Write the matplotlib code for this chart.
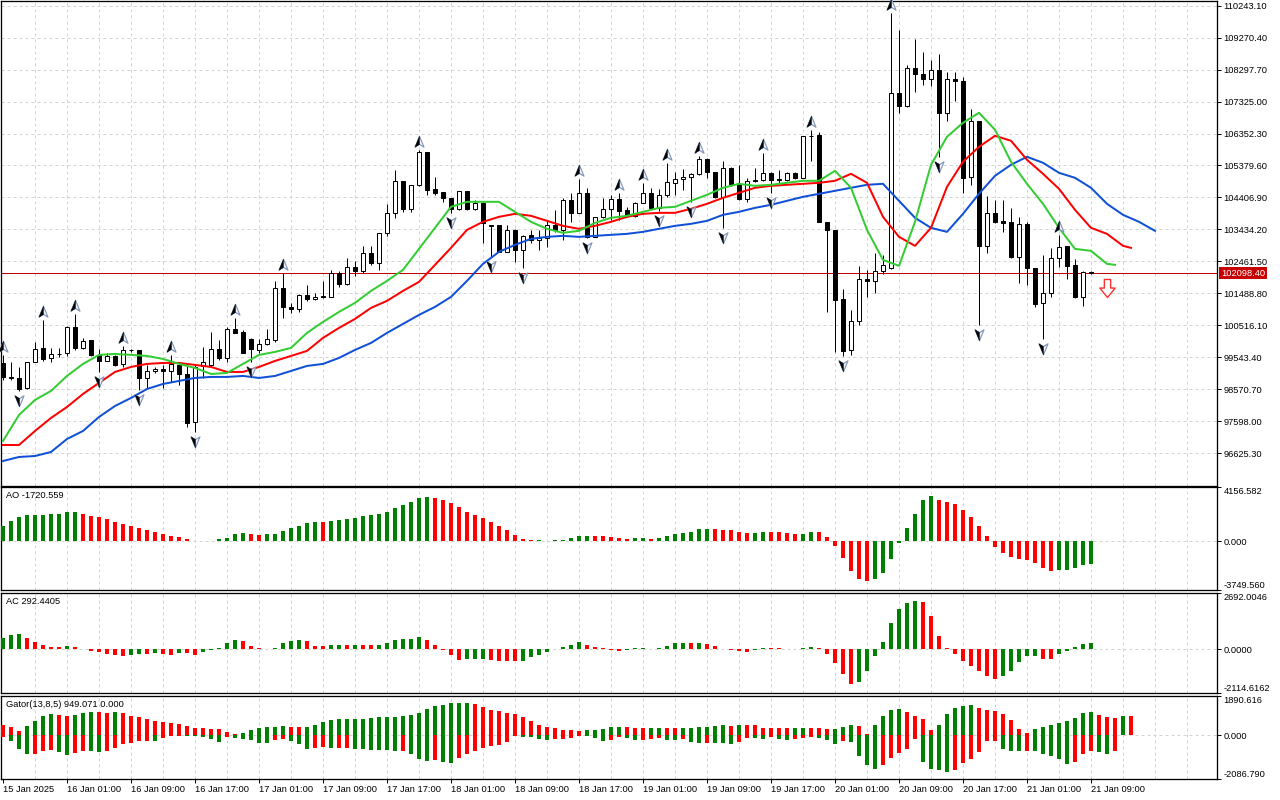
import numpy as np
import matplotlib
matplotlib.use("Agg")
import matplotlib.pyplot as plt
from matplotlib.path import Path
from matplotlib.transforms import offset_copy, blended_transform_factory

plt.rcParams['font.family'] = ['Liberation Sans', 'DejaVu Sans']
FS = 6.7

# ---------------- data ----------------
time_labels = ["15 Jan 2025", "16 Jan 01:00", "16 Jan 09:00", "16 Jan 17:00", "17 Jan 01:00",
               "17 Jan 09:00", "17 Jan 17:00", "18 Jan 01:00", "18 Jan 09:00", "18 Jan 17:00",
               "19 Jan 01:00", "19 Jan 09:00", "19 Jan 17:00", "20 Jan 01:00", "20 Jan 09:00",
               "20 Jan 17:00", "21 Jan 01:00", "21 Jan 09:00"]

open_ = [99378, 98933, 98920, 98598, 99390, 99826, 99512, 99634, 99665, 100456,
         99817, 100070, 99613, 99439, 99582, 99329, 99765, 99750, 98903, 99126,
         99186, 99126, 99308, 99034, 97581, 99277, 99308, 99786, 99512, 100405,
         100322, 100091, 99765, 99948, 100070, 101644, 101084, 101005, 101440, 101309,
         101410, 101389, 102101, 101775, 102284, 102181, 102711, 102424, 103320, 103947,
         104922, 104051, 104791, 105775, 104660, 104587, 104386, 104051, 104617, 104060,
         104252, 103551, 103572, 102759, 103420, 102811, 103268, 103116, 103167, 103572,
         103420, 104334, 103947, 104538, 103216, 103807, 104060, 104355, 104029, 103847,
         104252, 104538, 104081, 104486, 104861, 104965, 105025, 105117, 105583, 105166,
         104416, 105300, 104821, 104355, 104922, 104943, 105147, 104943, 104935, 105147,
         105013, 106283, 106313, 103673, 103420, 101309, 99765, 100657, 101918, 101876,
         102181, 102253, 107584, 107176, 108346, 108172, 108011, 108294, 106975, 108011,
         107937, 105025, 106719, 102933, 103929, 103703, 103673, 102589, 103603, 102253,
         101206, 101492, 102558, 102933, 102354, 101370, 102150]
high_ = [99613, 99409, 99256, 99400, 100018, 100679, 99817, 99817, 100496, 100852,
         100121, 100070, 99796, 99665, 99613, 99887, 99796, 99765, 99308, 99256,
         99308, 99613, 99360, 99308, 99308, 99856, 100322, 100070, 100475, 100730,
         100374, 100121, 100091, 100396, 101867, 102120, 101206, 101471, 101745, 101492,
         101867, 102202, 102181, 102576, 102485, 102933, 102933, 103320, 104212, 105227,
         104922, 104791, 105840, 105775, 105025, 104587, 104386, 104617, 104617, 104334,
         104252, 103572, 103572, 103572, 103441, 103268, 103420, 103420, 103725, 104029,
         104386, 104538, 104974, 104690, 103825, 104386, 104486, 104538, 104130, 104282,
         104861, 104690, 104660, 105470, 105196, 105269, 105147, 105653, 105604, 105196,
         105501, 105330, 105400, 104995, 105300, 105750, 105196, 105227, 105196, 105196,
         106283, 106466, 106384, 103673, 103420, 101614, 100983, 102324, 102202, 102711,
         102659, 110021, 109512, 108446, 109229, 108821, 108577, 108781, 108212, 108212,
         108072, 107097, 106719, 104456, 104334, 104334, 104081, 103807, 103673, 102253,
         102659, 102863, 103268, 102933, 102528, 102181, 102181]
low_ = [98851, 98851, 98525, 98577, 99390, 99439, 99409, 99543, 99582, 99765,
        99786, 99582, 99104, 99439, 99287, 99256, 99713, 98547, 98598, 99055,
        98620, 98799, 98699, 97429, 97276, 98912, 99256, 99460, 99409, 100274,
        99665, 99399, 99683, 99917, 100018, 100731, 100883, 100932, 101267, 101288,
        101350, 101389, 101675, 101745, 102019, 102120, 102354, 102202, 103237, 103776,
        103978, 103978, 104760, 104486, 104486, 104282, 103929, 104029, 104029, 104029,
        103015, 102607, 102759, 102741, 102445, 102253, 103015, 102811, 102911, 103368,
        103116, 103673, 103929, 103167, 103200, 103776, 103725, 103725, 103825, 103825,
        104233, 104060, 104000, 104434, 104486, 104639, 104273, 105095, 104995, 104386,
        103472, 104760, 104334, 104282, 104891, 104922, 104547, 104843, 104922, 104974,
        104995, 105501, 103673, 100932, 99704, 99582, 99613, 100527, 101389, 101510,
        102080, 102223, 106975, 107158, 107602, 107837, 107806, 105644, 106719, 107328,
        104538, 104791, 100527, 102711, 103643, 103368, 102558, 101815, 101745, 101066,
        100091, 101389, 102302, 101918, 101340, 101105, 102080]
close_ = [98933, 98920, 98577, 99390, 99805, 99491, 99634, 99650, 100456, 99817,
          100049, 99613, 99439, 99582, 99308, 99765, 99750, 98903, 99126, 99186,
          99126, 99339, 99034, 97551, 99256, 99400, 99786, 99512, 100405, 100292,
          99683, 99786, 99948, 100091, 101644, 101066, 101005, 101440, 101309, 101370,
          101370, 102101, 101775, 102284, 102181, 102711, 102424, 103320, 103947, 104922,
          104051, 104791, 105775, 104639, 104556, 104386, 104051, 104617, 104051, 104243,
          103624, 103560, 102759, 103420, 102811, 103237, 103116, 103167, 103572, 103420,
          104334, 103947, 104538, 103216, 103807, 104060, 104355, 104008, 103847, 104252,
          104538, 104081, 104486, 104891, 104965, 105025, 105117, 105583, 105166, 104416,
          105300, 104821, 104355, 104922, 104943, 105147, 104943, 104935, 105147, 104995,
          106262, 106270, 103673, 103420, 101288, 99744, 100657, 101918, 101876, 102181,
          102354, 107584, 107176, 108346, 108172, 108011, 108272, 106975, 108011, 107937,
          104995, 106719, 102933, 103929, 103673, 103643, 102589, 103603, 102253, 101166,
          101492, 102558, 102911, 102324, 101370, 102150, 102098.4]
current_price = 102098.40

fractal_up_bars = [0, 5, 9, 15, 21, 29, 35, 52, 72, 77, 80, 83, 87, 95, 101, 111, 132]
fractal_down_bars = [2, 12, 17, 24, 31, 56, 61, 65, 73, 82, 86, 90, 96, 105, 117, 122, 130]
signal_bars = [138]
signal_prices = [101650]

# Alligator lines (sampled every 2 bars, shifted forward as displayed)
lips_bars = list(range(0, 139, 2)) + [139]
lips_vals = [96993, 97785, 98242, 98516, 98973, 99339, 99613, 99643, 99613, 99582,
             99491, 99339, 99217, 99034, 99064, 99339, 99613, 99704, 99826, 100283,
             100618, 100922, 101197, 101562, 101867, 102202, 102841, 103481, 104121, 104273,
             104273, 104273, 103968, 103664, 103451, 103329, 103390, 103633, 103786, 103847,
             103968, 104090, 104121, 104304, 104486, 104700, 104821, 104760, 104791, 104852,
             104913, 104913, 105217, 104700, 103420, 102506, 102324, 103664, 105400, 106253,
             106679, 106984, 106466, 105491, 104821, 104212, 103481, 102841, 102781, 102385,
             102354]
teeth_bars = list(range(0, 141, 2)) + [141]
teeth_vals = [96871, 96871, 97298, 97694, 98029, 98425, 98760, 99095, 99247, 99339,
              99369, 99369, 99308, 99247, 99095, 99095, 99247, 99430, 99582, 99735,
              100131, 100435, 100709, 101044, 101258, 101562, 101836, 102354, 102872, 103420,
              103664, 103816, 103908, 103847, 103694, 103542, 103451, 103542, 103664, 103816,
              103908, 103938, 103938, 104060, 104212, 104395, 104547, 104700, 104760, 104791,
              104821, 104852, 104913, 105126, 104852, 103816, 103207, 102933, 103481, 104730,
              105491, 105948, 106283, 106131, 105552, 105126, 104669, 104029, 103481, 103298,
              102933, 102872]
jaw_bars = list(range(0, 145, 2))
jaw_vals = [96384, 96506, 96536, 96658, 97054, 97298, 97724, 98059, 98303, 98577,
            98729, 98821, 98912, 98943, 98943, 98973, 98912, 98973, 99125, 99278,
            99339, 99521, 99765, 99978, 100283, 100557, 100831, 101075, 101379, 101867,
            102385, 102750, 102963, 103146, 103207, 103237, 103207, 103237, 103268, 103298,
            103359, 103451, 103542, 103603, 103694, 103877, 103968, 104090, 104182, 104304,
            104425, 104517, 104608, 104700, 104791, 104821, 104304, 103786, 103481, 103359,
            103908, 104517, 105065, 105400, 105644, 105461, 105156, 105004, 104700, 104212,
            103877, 103664, 103390]

ao_vals = [1148, 1530, 1862, 1989, 1995, 2000, 2066, 2075, 2219, 2225,
           2066, 1964, 1862, 1683, 1454, 1301, 1148, 1020, 867, 714,
           536, 383, 306, 179, 10, 20, 35, 128, 255, 561,
           612, 536, 459, 561, 570, 816, 1020, 1199, 1403, 1479,
           1470, 1556, 1632, 1709, 1785, 1913, 2015, 2091, 2244, 2525,
           2754, 3009, 3290, 3366, 3290, 3137, 2907, 2601, 2244, 1989,
           1760, 1479, 1173, 867, 459, 179, 77, 85, 30, 51,
           77, 230, 383, 390, 380, 370, 306, 204, 153, 204,
           210, 200, 230, 383, 536, 612, 689, 918, 925, 915,
           842, 835, 689, 612, 620, 689, 680, 670, 612, 536,
           545, 689, 680, 306, -383, -1275, -2295, -2882, -3060, -2880,
           -2423, -1352, -128, 995, 2066, 3137, 3443, 3130, 3009, 2831,
           2372, 1836, 1148, 383, -459, -893, -1224, -1352, -1454, -1658,
           -2040, -2295, -2219, -2190, -2052, -1836, -1720.559]
ac_vals = [512, 688, 704, 544, 320, 208, 112, 105, 160, 112,
           10, -80, -160, -240, -288, -352, -272, -240, -260, -208,
           -260, -270, -208, -215, -304, -160, -32, 32, 272, 448,
           368, 160, 48, -16, 48, 272, 368, 448, 368, 160,
           155, 208, 212, 205, 210, 204, 200, 206, 272, 416,
           496, 500, 592, 448, 208, -48, -272, -528, -480, -472,
           -464, -528, -560, -565, -592, -560, -368, -288, -160, -16,
           112, 208, 320, 208, 112, 48, -48, -80, -48, 32,
           48, 8, 48, 160, 272, 280, 265, 304, 256, 160,
           -16, -32, -80, -160, -48, 48, 40, 32, 24, 8,
           32, 96, 64, -240, -688, -1216, -1664, -1600, -1040, -352,
           320, 1232, 1920, 2192, 2320, 2272, 1600, 640, 40, -240,
           -560, -800, -1040, -1280, -1456, -1280, -1040, -640, -352, -318,
           -478, -485, -239, -80, 112, 250, 292.4405]
gator_upper = [524, 428, 207, 476, 714, 952, 1047, 968, 952, 1000,
               1095, 1143, 1111, 1095, 1100, 1091, 952, 905, 810, 714,
               666, 619, 556, 476, 381, 349, 317, 302, 142, 47,
               95, 254, 381, 383, 428, 476, 428, 397, 400, 524,
               666, 761, 766, 771, 777, 810, 826, 873, 905, 908,
               952, 968, 1095, 1285, 1429, 1476, 1539, 1571, 1575, 1524,
               1380, 1238, 1190, 1095, 1047, 905, 714, 524, 428, 342,
               254, 250, 191, 254, 258, 317, 397, 428, 425, 349,
               346, 350, 381, 349, 342, 350, 381, 412, 428, 476,
               524, 476, 524, 521, 516, 381, 349, 346, 342, 350,
               381, 375, 349, 287, 292, 382, 477, 430, 47, 477,
               955, 1241, 1245, 1145, 955, 811, 239, 477, 1050, 1336,
               1432, 1479, 1336, 1241, 1194, 1050, 764, 287, 96, 330,
               382, 477, 573, 716, 859, 1098, 1145, 1002, 907, 859,
               955, 949.071]
gator_lower = [-63, -270, -635, -905, -873, -746, -714, -794, -952, -857,
               -746, -750, -794, -746, -603, -428, -365, -270, -267, -275,
               -127, -32, -29, -33, -37, -63, -191, -317, -79, -127,
               -191, -222, -365, -367, -222, -175, -270, -428, -635, -625,
               -556, -603, -600, -596, -635, -666, -698, -700, -704, -746,
               -741, -905, -1143, -1222, -1190, -1270, -1301, -1063, -905, -746,
               -587, -508, -476, -317, -32, -63, -79, -158, -222, -175,
               -171, -127, -17, -32, -127, -270, -222, -79, -127, -222,
               -217, -175, -127, -222, -225, -175, -317, -365, -358, -371,
               -383, -412, -317, -127, -133, -175, -79, -175, -222, -175,
               -127, -79, -117, -222, -430, -287, -334, -1002, -1416, -1607,
               -1416, -1082, -843, -652, -175, -1273, -1607, -1654, -1738, -1654,
               -1320, -1130, -796, -271, -267, -652, -748, -750, -733, -750,
               -883, -1002, -1130, -1384, -1273, -907, -748, -796, -907, -748]

price_levels = [96625.30, 97598.00, 98570.70, 99543.40, 100516.10, 101488.80, 102461.50,
                103434.20, 104406.90, 105379.60, 106352.30, 107325.00, 108297.70, 109270.40,
                110243.10]
ao_scale = [-3749.560, 0.0, 4156.582]
ac_scale = [-2114.6162, 0.0, 2692.0046]
gator_scale = [-2086.790, 0.0, 1890.616]

# ---------------- styling ----------------
GREEN = '#008000'
RED = '#ff0000'
GRID = '#d3d3d3'
W, H = 1280, 800
PX = 72.0 / 100.0   # points per pixel

fig = plt.figure(figsize=(12.8, 8.0), dpi=100)
fig.patch.set_facecolor('white')


def make_axes(top, bottom):
    left, right = 1, 1217
    ax = fig.add_axes([left / W, 1 - bottom / H, (right - left) / W, (bottom - top) / H])
    ax.set_facecolor('white')
    for s in ax.spines.values():
        s.set_color('black')
        s.set_linewidth(1.0 * PX * 1.3)
    ax.set_xlim(-0.25, 151.75)
    for xg in range(4, 152, 4):
        ax.axvline(xg, color=GRID, lw=PX, ls=(0, (3, 3)), zorder=0)
    ax.yaxis.tick_right()
    ax.tick_params(axis='y', direction='out', length=3, width=0.7, pad=1.5,
                   labelsize=FS, left=False, right=True, labelleft=False, labelright=True)
    ax.tick_params(axis='x', bottom=False, labelbottom=False)
    return ax


ax_main = make_axes(1, 486)
ax_ao = make_axes(487, 590)
ax_ac = make_axes(593, 693)
ax_gt = make_axes(696, 779)

# ---------------- main chart ----------------
ax = ax_main
ax.set_ylim(95623, 110386)
ax.set_yticks(price_levels)
ax.set_yticklabels(['%.2f' % p for p in price_levels])
for p in price_levels:
    ax.axhline(p, color=GRID, lw=PX, ls=(0, (3, 3)), zorder=0)

idx = np.arange(len(close_))
o = np.array(open_, float)
h = np.array(high_, float)
l = np.array(low_, float)
c = np.array(close_, float)
bull = c >= o
ax.vlines(idx, l, h, color='black', lw=1.0 * PX, zorder=3)
body_lo = np.minimum(o, c)
body_h = np.maximum(np.abs(c - o), 18)
ax.bar(idx, body_h, bottom=body_lo, width=0.6,
       color=np.where(bull, 'white', 'black'), edgecolor='black', linewidth=1.0 * PX, zorder=4)

ax.axhline(current_price, color='#c00000', lw=1.0 * PX, zorder=2)

ax.plot(jaw_bars, jaw_vals, color='#1050d8', lw=2.0 * PX, zorder=5, solid_joinstyle='round')
ax.plot(teeth_bars, teeth_vals, color='#ff0000', lw=2.0 * PX, zorder=5, solid_joinstyle='round')
ax.plot(lips_bars, lips_vals, color='#33cc33', lw=2.0 * PX, zorder=5, solid_joinstyle='round')

# fractal arrows
MOVE, LINE, CLOSE = Path.MOVETO, Path.LINETO, Path.CLOSEPOLY
up_full = Path([(0, 1), (0.72, -0.75), (0, -0.3), (-0.72, -0.75), (0, 1)], [MOVE, LINE, LINE, LINE, CLOSE])
up_half = Path([(0, 1), (0, -0.3), (-0.72, -0.75), (0, 1)], [MOVE, LINE, LINE, CLOSE])
dn_full = Path([(0, -1), (0.72, 0.75), (0, 0.3), (-0.72, 0.75), (0, -1)], [MOVE, LINE, LINE, LINE, CLOSE])
dn_half = Path([(0, -1), (0, 0.3), (-0.72, 0.75), (0, -1)], [MOVE, LINE, LINE, CLOSE])

tr_up = offset_copy(ax.transData, fig=fig, x=0, y=8 * PX, units='points')
tr_dn = offset_copy(ax.transData, fig=fig, x=0, y=-9 * PX, units='points')
fu_y = [high_[i] for i in fractal_up_bars]
fd_y = [low_[i] for i in fractal_down_bars]
for bars, ys, full, half, tr in ((fractal_up_bars, fu_y, up_full, up_half, tr_up),
                                 (fractal_down_bars, fd_y, dn_full, dn_half, tr_dn)):
    ax.plot(bars, ys, ls='none', marker=full, ms=9, mfc='#f4f6fa', mec='#7f93b8',
            mew=0.8, transform=tr, zorder=7, clip_on=False)
    ax.plot(bars, ys, ls='none', marker=half, ms=9, mfc='black', mec='black',
            mew=0.3, transform=tr, zorder=8, clip_on=False)

# signal arrow (hollow down arrow)
sig = Path([(-0.35, 1), (0.35, 1), (0.35, 0.05), (0.85, 0.05), (0, -1), (-0.85, 0.05),
            (-0.35, 0.05), (-0.35, 1)], [MOVE, LINE, LINE, LINE, LINE, LINE, LINE, CLOSE])
ax.plot(signal_bars, signal_prices, ls='none', marker=sig, ms=13, mfc='white', mec='#ff3030',
        mew=1.0, zorder=8)

# current price tag
btr = blended_transform_factory(ax.transAxes, ax.transData)
tag_tr = offset_copy(btr, fig=fig, x=4 * PX, y=0, units='points')
ax.text(1.0, current_price, '%.2f' % current_price, transform=tag_tr, ha='left', va='center',
        fontsize=FS, color='white', zorder=10, clip_on=False,
        bbox=dict(boxstyle='square,pad=0.18', fc='#c80000', ec='none'))


# ---------------- indicator panels ----------------
def change_colors(vals, use_abs=False, first=GREEN):
    v = np.abs(vals) if use_abs else np.asarray(vals, float)
    cols = [first]
    for i in range(1, len(v)):
        cols.append(GREEN if v[i] > v[i - 1] else RED)
    return cols


def set_scale(ax, scale, fmt):
    ax.set_ylim(scale[0], scale[2])
    ax.set_yticks(scale)
    ax.set_yticklabels([fmt % s for s in scale])
    ticks = ax.yaxis.get_major_ticks()
    ticks[0].label2.set_va('bottom')
    ticks[2].label2.set_va('top')
    ax.axhline(0, color=GRID, lw=PX, ls=(0, (3, 3)), zorder=0)


def panel_label(ax, txt):
    tr = offset_copy(ax.transAxes, fig=fig, x=5 * PX, y=-4 * PX, units='points')
    ax.text(0, 1, txt, transform=tr, ha='left', va='top', fontsize=FS, color='black')


ao = np.array(ao_vals, float)
ax_ao.bar(np.arange(len(ao)), ao, width=0.5, color=change_colors(ao), zorder=3)
set_scale(ax_ao, ao_scale, '%.3f')
panel_label(ax_ao, 'AO -1720.559')

ac = np.array(ac_vals, float)
ax_ac.bar(np.arange(len(ac)), ac, width=0.5, color=change_colors(ac), zorder=3)
set_scale(ax_ac, ac_scale, '%.4f')
panel_label(ax_ac, 'AC 292.4405')

gu = np.array(gator_upper, float)
gl = np.array(gator_lower, float)
ax_gt.bar(np.arange(len(gu)), gu, width=0.5, color=change_colors(gu, first=RED), zorder=3)
ax_gt.bar(np.arange(len(gl)), gl, width=0.5, color=change_colors(gl, use_abs=True, first=RED), zorder=3)
set_scale(ax_gt, gator_scale, '%.3f')
panel_label(ax_gt, 'Gator(13,8,5) 949.071 0.000')

# time axis
label_bars = list(range(0, 8 * len(time_labels), 8))
ax_gt.set_xticks(label_bars)
ax_gt.set_xticklabels(time_labels, ha='left')
ax_gt.tick_params(axis='x', bottom=True, labelbottom=True, direction='out', length=3,
                  width=0.7, pad=1.5, labelsize=FS)

fig.savefig('out.png', dpi=100, facecolor='white')
